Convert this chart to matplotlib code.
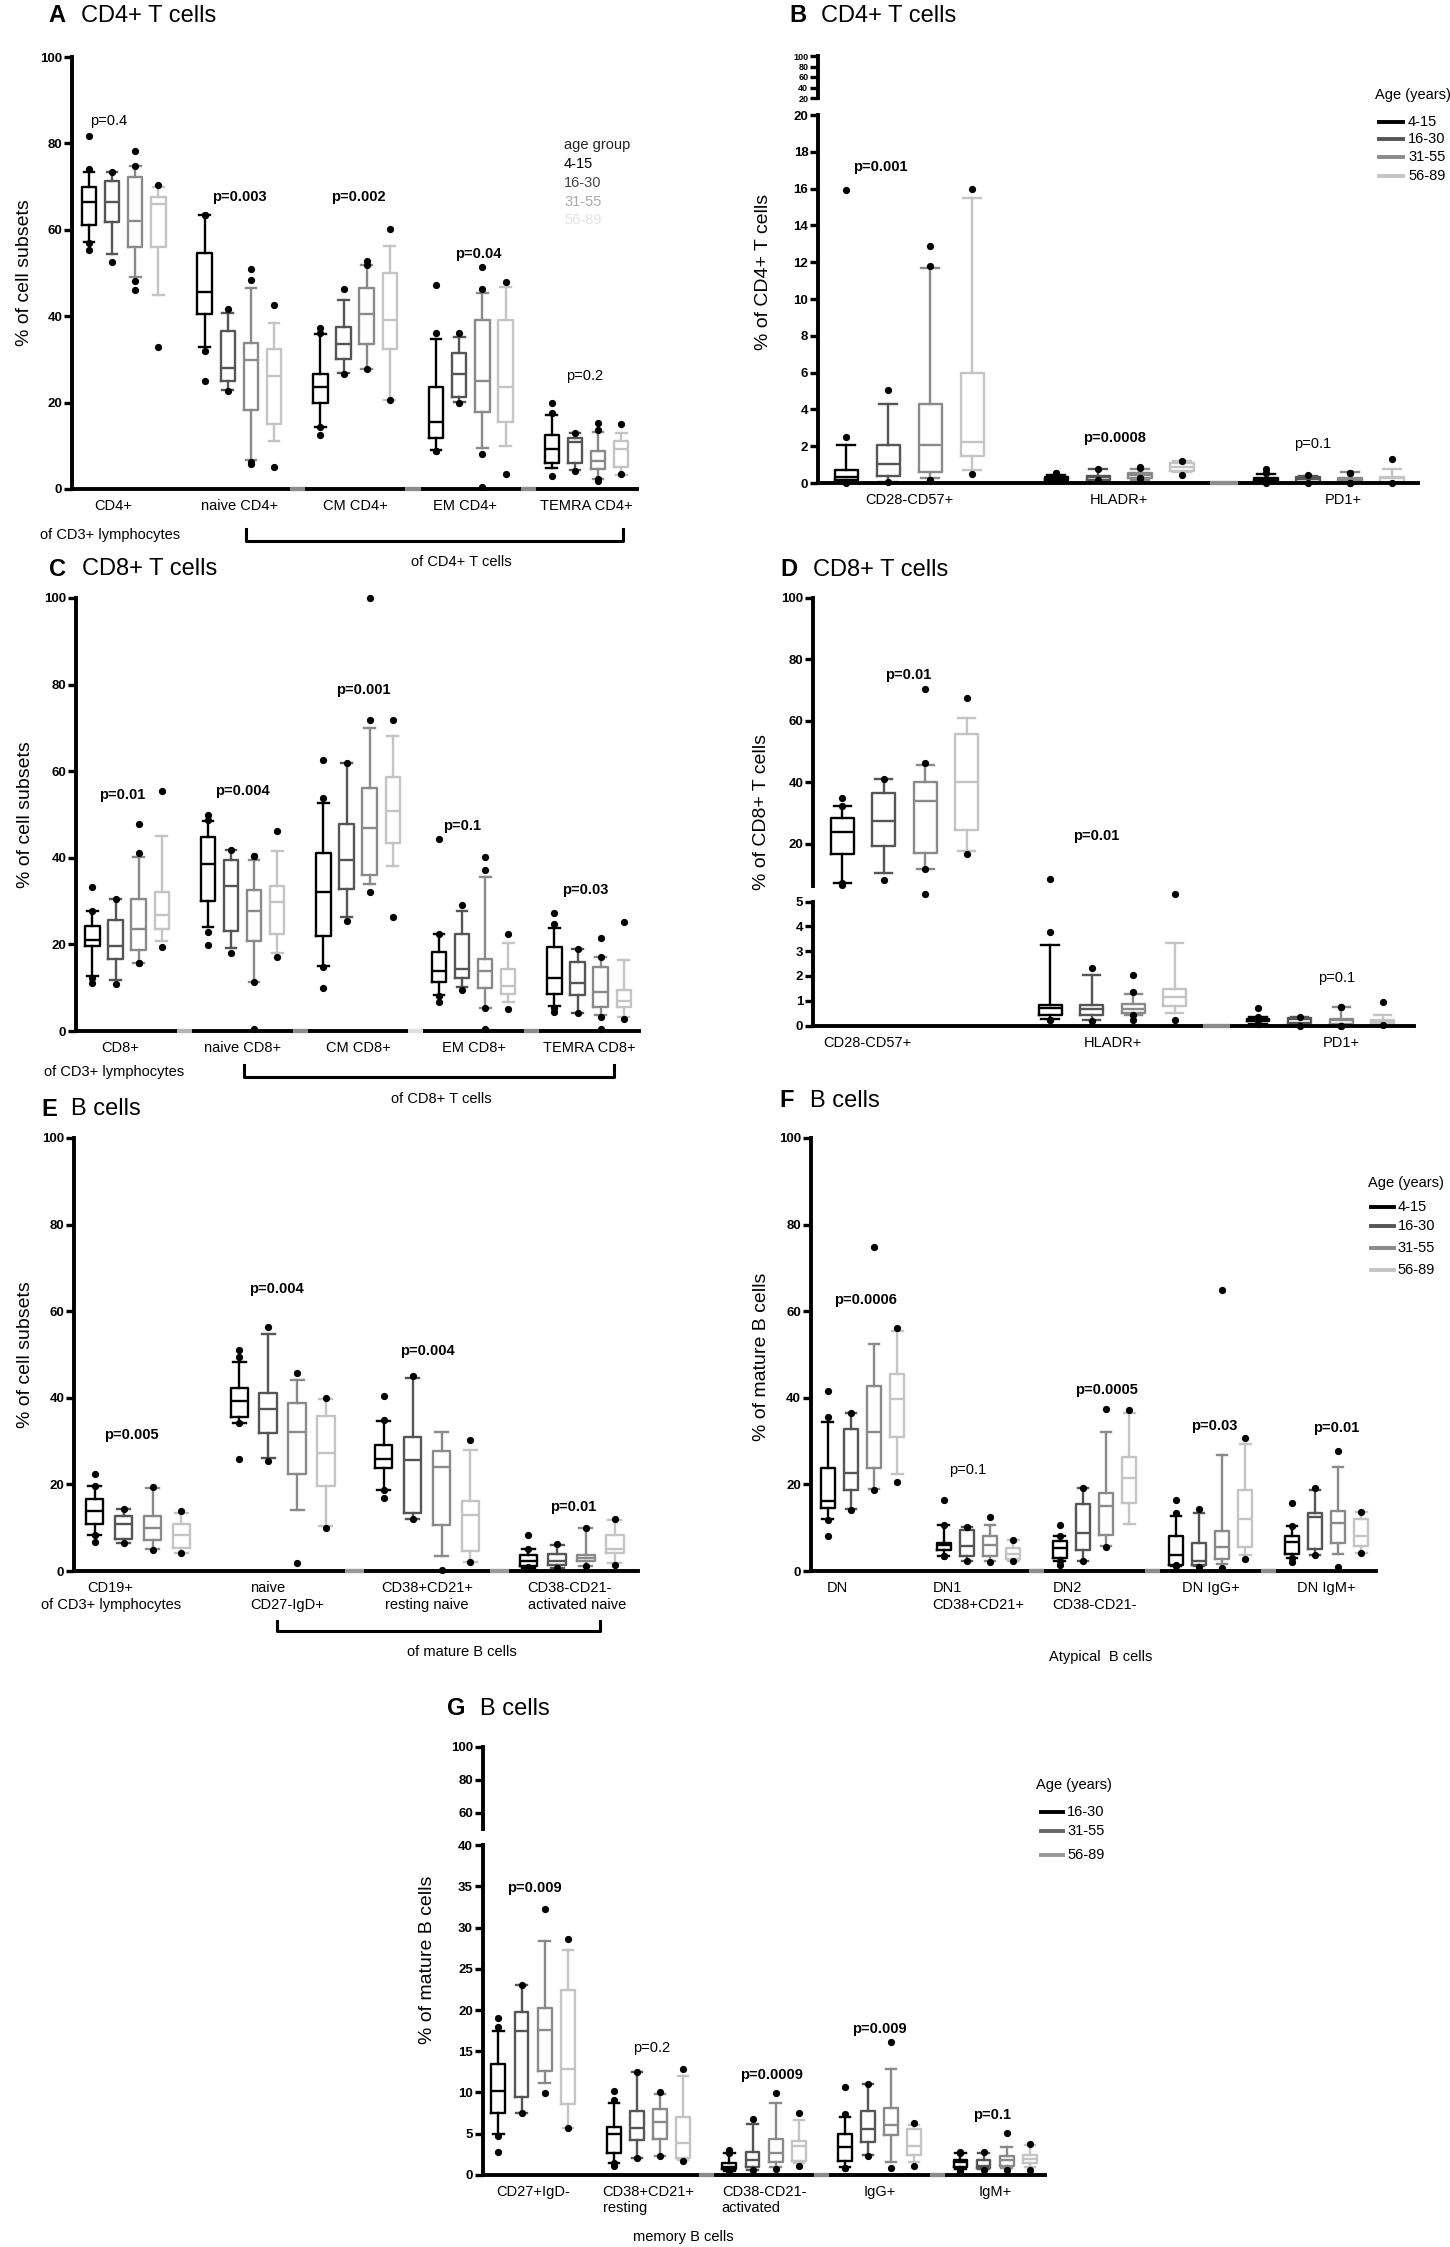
import matplotlib
matplotlib.use("Agg")
import matplotlib.pyplot as plt
from matplotlib.lines import Line2D

plt.rcParams['font.family'] = ['Liberation Sans', 'DejaVu Sans']

# ---------------- data ----------------
GROUPS = ['4-15', '16-30', '31-55', '56-89']
BOX_COLORS = ['#000000', '#555555', '#8a8a8a', '#c4c4c4']

# A  CD4+ T cells
A_cats = ['CD4+', 'naive CD4+', 'CM CD4+', 'EM CD4+', 'TEMRA CD4+']
A_lo = [[57.2, 54.5, 49.0, 45.0], [32.9, 22.9, 6.7, 11.1], [14.4, 26.9, 27.8, 20.6], [9.0, 20.2, 9.5, 10.0], [4.9, 4.3, 2.2, 3.3]]
A_q1 = [[61.0, 61.7, 56.0, 56.0], [40.5, 25.1, 18.3, 15.1], [20.0, 30.0, 33.6, 32.5], [11.9, 21.2, 17.9, 15.5], [6.0, 6.0, 4.7, 5.2]]
A_med = [[66.4, 66.4, 62.1, 66.0], [45.7, 28.1, 29.9, 26.1], [23.6, 33.5, 40.6, 39.1], [15.4, 26.7, 25.1, 23.7], [9.3, 10.9, 6.4, 9.2]]
A_q3 = [[69.8, 71.4, 72.3, 67.6], [54.6, 36.6, 33.7, 32.5], [26.7, 37.4, 46.5, 50.0], [23.7, 31.4, 39.1, 39.1], [12.5, 11.8, 8.8, 11.1]]
A_hi = [[73.4, 73.4, 74.7, 69.8], [63.5, 40.7, 46.5, 38.5], [35.8, 43.8, 51.8, 56.2], [34.8, 35.2, 45.3, 46.7], [17.1, 12.9, 13.3, 13.0]]
A_out = [
    [[81.7, 74.1, 56.9, 55.3], [73.4, 52.5], [78.3, 74.7, 48.1, 46.0], [70.4, 32.9]],
    [[63.5, 63.5, 31.9, 25.1], [41.6, 22.6], [50.9, 48.3, 6.2, 5.8], [42.6, 5.1]],
    [[36.0, 37.3, 14.4, 12.5], [46.3, 26.7], [52.7, 51.9, 27.7], [60.1, 20.6]],
    [[47.2, 36.0, 8.8, 8.8], [36.0, 19.8], [51.3, 46.3, 8.2, 0.4], [48.0, 3.5]],
    [[19.8, 17.7, 3.0], [13.0, 4.1], [15.2, 13.6, 1.8, 2.2], [15.0, 3.5]],
]
A_p = ['p=0.4', 'p=0.003', 'p=0.002', 'p=0.04', 'p=0.2']
A_pbold = [False, True, True, True, False]

# B  CD4+ T cells, activation markers
B_cats = ['CD28-CD57+', 'HLADR+', 'PD1+']
B_lo = [[0.02, 0.06, 0.25, 0.68], [0.10, 0.12, 0.16, 0.60], [0.02, 0.02, 0.02, 0.02]]
B_q1 = [[0.16, 0.39, 0.60, 1.46], [0.16, 0.19, 0.25, 0.64], [0.10, 0.06, 0.06, 0.06]]
B_med = [[0.31, 1.03, 2.04, 2.25], [0.29, 0.31, 0.45, 0.87], [0.21, 0.21, 0.16, 0.25]]
B_q3 = [[0.70, 2.04, 4.27, 5.98], [0.35, 0.39, 0.54, 1.09], [0.29, 0.35, 0.25, 0.31]]
B_hi = [[2.04, 4.29, 11.7, 15.5], [0.45, 0.74, 0.74, 1.22], [0.49, 0.39, 0.60, 0.74]]
B_out = [
    [[2.49, 15.9, 0.0, 0.05], [5.05, 0.06], [12.9, 11.8, 0.19, 0.19], [16.0, 0.49]],
    [[0.54, 0.54, 0.16], [0.74, 0.16], [0.83, 0.89, 0.25, 0.25], [1.22, 0.45]],
    [[0.54, 0.74, 0.02], [0.45, 0.0], [0.54, 0.54, 0.0, 0.0], [1.28, 0.0]],
]
B_p = ['p=0.001', 'p=0.0008', 'p=0.1']
B_pbold = [True, True, False]

# C  CD8+ T cells
C_cats = ['CD8+', 'naive CD8+', 'CM CD8+', 'EM CD8+', 'TEMRA CD8+']
C_lo = [[12.7, 11.8, 15.7, 20.8], [24.0, 19.1, 11.3, 17.9], [15.1, 26.4, 34.0, 38.0], [8.4, 10.2, 5.3, 6.8], [5.7, 4.1, 3.6, 3.3]]
C_q1 = [[19.7, 16.7, 18.7, 23.6], [30.1, 23.2, 20.7, 22.3], [22.0, 32.8, 36.0, 43.4], [11.3, 12.3, 9.9, 8.6], [8.6, 8.4, 5.6, 5.6]]
C_med = [[21.1, 19.7, 23.5, 26.9], [38.6, 33.6, 27.7, 29.8], [32.2, 39.5, 46.9, 50.7], [13.8, 14.3, 13.9, 10.5], [12.3, 11.0, 9.1, 7.0]]
C_q3 = [[24.3, 25.6, 30.6, 32.2], [44.8, 39.4, 32.6, 33.4], [41.1, 47.7, 56.1, 58.7], [18.3, 22.4, 16.7, 14.3], [19.5, 15.9, 14.7, 9.5]]
C_hi = [[27.6, 30.6, 40.2, 45.1], [48.4, 41.9, 39.4, 41.5], [52.7, 61.8, 70.0, 68.2], [22.4, 27.8, 35.6, 20.3], [23.9, 18.9, 17.1, 16.3]]
C_out = [
    [[33.2, 27.8, 12.2, 11.0], [30.6, 10.9], [47.7, 41.0, 15.7, 15.7], [55.4, 19.5]],
    [[48.7, 49.9, 22.9, 19.9], [41.9, 18.1], [40.4, 40.4, 11.3, 0.4], [46.1, 17.1]],
    [[62.7, 53.9, 14.7, 9.9], [61.8, 25.5], [100.0, 71.8, 32.0], [71.8, 26.4]],
    [[44.4, 22.4, 6.6, 8.0], [29.0, 9.5], [40.2, 37.2, 5.3, 0.4], [22.4, 5.0]],
    [[27.3, 24.7, 4.5, 5.4], [18.9, 4.1], [21.5, 17.1, 3.3, 0.4], [25.1, 2.8]],
]
C_p = ['p=0.01', 'p=0.004', 'p=0.001', 'p=0.1', 'p=0.03']
C_pbold = [True, True, True, True, True]

# D  CD8+ T cells, activation markers
D_cats = ['CD28-CD57+', 'HLADR+', 'PD1+']
D_lo = [[7.2, 10.5, 11.9, 17.7], [0.28, 0.21, 0.42, 0.51], [0.07, 0.07, 0.04, 0.04]]
D_q1 = [[16.7, 19.5, 17.1, 24.7], [0.42, 0.42, 0.51, 0.79], [0.17, 0.11, 0.07, 0.07]]
D_med = [[24.0, 27.5, 34.0, 40.1], [0.69, 0.65, 0.67, 1.14], [0.24, 0.28, 0.21, 0.14]]
D_q3 = [[28.6, 36.7, 40.1, 55.8], [0.81, 0.83, 0.88, 1.46], [0.28, 0.31, 0.28, 0.21]]
D_hi = [[32.4, 41.2, 45.7, 61.1], [3.24, 2.04, 1.29, 3.33], [0.35, 0.35, 0.74, 0.44]]
D_out = [
    [[35.0, 32.4, 7.2, 6.8], [41.2, 8.3], [70.3, 46.2, 11.9, 5.3], [67.5, 16.6]],
    [[8.5, 3.79, 0.24, 0.24], [2.32, 0.18], [2.04, 1.36, 0.42, 0.24], [5.3, 0.24]],
    [[0.72, 0.35, 0.07, 0.07], [0.35, 0.0], [0.76, 0.76, 0.0, 0.0], [0.93, 0.03]],
]
D_p = ['p=0.01', 'p=0.01', 'p=0.1']
D_pbold = [True, True, False]

# E  B cells
E_cats = ['CD19+\nof CD3+ lymphocytes', 'naive\nCD27-IgD+', 'CD38+CD21+\nresting naive', 'CD38-CD21-\nactivated naive']
E_lo = [[8.4, 6.4, 5.0, 4.2], [34.2, 26.2, 14.1, 10.3], [18.6, 12.1, 3.4, 2.0], [0.7, 0.7, 1.1, 1.9]]
E_q1 = [[10.8, 7.5, 7.2, 5.3], [35.6, 31.8, 22.5, 19.7], [23.7, 13.5, 10.6, 4.6], [1.1, 1.3, 2.2, 4.2]]
E_med = [[13.9, 10.9, 10.0, 8.4], [39.3, 37.5, 32.1, 27.2], [25.8, 25.6, 24.0, 13.0], [2.4, 2.4, 3.1, 5.1]]
E_q3 = [[16.6, 12.8, 12.6, 10.9], [42.3, 41.0, 38.9, 35.7], [29.2, 30.9, 27.7, 16.1], [3.7, 4.0, 3.7, 8.4]]
E_hi = [[19.7, 14.4, 19.2, 13.3], [48.3, 54.8, 44.0, 39.8], [34.7, 44.6, 32.1, 28.0], [5.1, 6.0, 10.0, 11.7]]
E_out = [
    [[22.5, 19.7, 8.4, 6.8], [14.4, 6.4], [19.4, 4.9], [13.9, 4.2]],
    [[51.1, 49.5, 34.2, 25.8], [56.4, 25.4], [45.7, 1.9], [39.9, 9.9]],
    [[40.4, 34.9, 18.6, 16.8], [45.1, 12.1], [0.2], [30.3, 2.0]],
    [[8.4, 5.1, 0.9, 0.7], [6.2, 0.7], [10.0, 1.1], [11.9, 1.5]],
]
E_p = ['p=0.005', 'p=0.004', 'p=0.004', 'p=0.01']
E_pbold = [True, True, True, True]

# F  atypical B cells
F_cats = ['DN', 'DN1\nCD38+CD21+', 'DN2\nCD38-CD21-', 'DN IgG+', 'DN IgM+']
F_lo = [[11.9, 14.4, 19.0, 22.3], [3.5, 2.2, 2.2, 2.2], [2.4, 2.2, 5.7, 10.8], [1.1, 1.1, 1.6, 3.7], [3.1, 3.7, 4.0, 4.2]]
F_q1 = [[14.6, 18.6, 23.9, 30.9], [4.9, 3.5, 3.5, 2.8], [3.1, 4.9, 8.4, 15.6], [1.5, 1.3, 2.8, 5.6], [4.0, 5.0, 6.4, 5.7]]
F_med = [[16.2, 22.7, 32.2, 39.8], [5.9, 5.7, 6.0, 4.0], [5.3, 8.8, 15.0, 21.4], [3.7, 2.2, 5.5, 11.9], [6.6, 12.4, 11.2, 8.0]]
F_q3 = [[23.7, 32.9, 42.8, 45.5], [6.4, 9.5, 8.1, 5.3], [6.9, 15.5, 17.9, 26.3], [8.1, 6.4, 9.3, 18.6], [8.0, 13.5, 13.9, 12.1]]
F_hi = [[34.3, 36.5, 52.4, 55.4], [10.6, 10.2, 10.6, 7.1], [8.1, 19.2, 32.2, 36.4], [12.8, 13.3, 26.7, 29.4], [10.3, 18.6, 24.0, 13.7]]
F_out = [
    [[41.5, 35.5, 11.7, 8.0], [36.5, 14.0], [74.9, 18.8], [56.1, 20.5]],
    [[16.5, 10.6, 3.5, 3.5], [10.2, 2.2], [12.4, 2.0], [7.2, 2.2]],
    [[10.6, 8.0, 1.3, 2.2], [19.2, 2.2], [37.4, 5.5], [37.1]],
    [[16.5, 13.5, 1.1, 1.3], [14.3, 0.9], [64.9, 0.6], [30.7, 2.8]],
    [[15.7, 10.3, 2.0, 3.1], [19.2, 3.7], [27.8, 0.9], [13.7, 4.2]],
]
F_p = ['p=0.0006', 'p=0.1', 'p=0.0005', 'p=0.03', 'p=0.01']
F_pbold = [True, False, True, True, True]

# G  memory B cells
G_cats = ['CD27+IgD-', 'CD38+CD21+\nresting', 'CD38-CD21-\nactivated', 'IgG+', 'IgM+']
G_lo = [[4.9, 7.5, 11.2, 5.7], [1.4, 2.0, 2.3, 1.8], [0.5, 0.6, 0.9, 1.4], [0.9, 2.4, 1.6, 1.5], [0.7, 0.7, 0.8, 1.0]]
G_q1 = [[7.5, 9.5, 12.6, 8.6], [2.6, 4.2, 4.4, 2.0], [0.7, 0.9, 1.6, 1.7], [1.7, 4.0, 4.8, 2.4], [1.0, 0.8, 1.1, 1.4]]
G_med = [[10.2, 17.5, 17.6, 12.9], [4.9, 5.7, 6.4, 3.9], [1.0, 1.8, 2.7, 3.5], [3.4, 5.5, 6.0, 3.5], [1.5, 1.1, 1.8, 1.9]]
G_q3 = [[13.4, 19.8, 20.2, 22.4], [5.8, 7.8, 8.0, 7.0], [1.4, 2.8, 4.4, 4.1], [4.9, 7.8, 8.1, 5.5], [1.8, 1.8, 2.3, 2.4]]
G_hi = [[17.4, 23.0, 28.4, 27.3], [8.7, 12.5, 9.8, 12.0], [2.6, 6.2, 8.7, 6.6], [7.0, 11.0, 12.8, 6.1], [2.7, 2.7, 3.4, 3.6]]
G_out = [
    [[19.0, 18.0, 4.7, 2.8], [23.0, 7.5], [32.3, 9.9], [28.6, 5.7]],
    [[10.2, 9.1, 1.4, 1.1], [12.5, 2.0], [10.0, 2.3], [12.8, 1.7]],
    [[3.0, 2.6, 0.5, 0.5], [6.8, 0.6], [9.9, 0.7], [7.5, 1.1]],
    [[10.7, 7.4, 0.8, 0.8], [11.0, 2.3], [16.1, 0.8], [6.3, 1.1]],
    [[2.8, 2.7, 0.5, 0.5], [2.8, 0.6], [5.1, 0.6], [3.7, 0.6]],
]
G_p = ['p=0.009', 'p=0.2', 'p=0.0009', 'p=0.009', 'p=0.1']
G_pbold = [True, False, True, True, True]
G_groups = ['16-30', '31-55', '56-89']
G_legend_colors = ['#000000', '#666666', '#999999']

# ---------------- layout helpers (pixel coordinates) ----------------
W, H = 1450, 2247
fig = plt.figure(figsize=(W / 100, H / 100), dpi=100)
SPINE_W = 2.8
BOX_LW = 1.7
FS_TICK = 9.5
FS_CAT = 10.5
FS_P = 10.5


def add_ax(left, right, top, bottom):
    return fig.add_axes([left / W, 1 - bottom / H, (right - left) / W, (bottom - top) / H])


def ftext(x, y, s, **kw):
    kw.setdefault('va', 'center')
    return fig.text(x / W, 1 - y / H, s, **kw)


def fline(xs, ys, **kw):
    fig.add_artist(Line2D([x / W for x in xs], [1 - y / H for y in ys],
                          transform=fig.transFigure, **kw))


def style(ax, ylim, yticks, bottom=True, tick_fs=FS_TICK, bounds=None):
    ax.set_ylim(*ylim)
    ax.set_yticks(yticks)
    ax.set_yticklabels([str(t) for t in yticks], fontsize=tick_fs, fontweight='bold')
    for s in ['top', 'right']:
        ax.spines[s].set_visible(False)
    ax.spines['left'].set_linewidth(SPINE_W)
    if bounds is not None:
        ax.spines['left'].set_bounds(*bounds)
    ax.patch.set_alpha(0)
    ax.tick_params(axis='y', direction='out', length=5.5, width=2.4, pad=1.5)
    if bottom:
        ax.spines['bottom'].set_linewidth(SPINE_W)
        ax.tick_params(axis='x', length=0, pad=7.5, labelsize=FS_CAT)
    else:
        ax.spines['bottom'].set_visible(False)
        ax.set_xticks([])


def boxes(ax, lo, q1, med, q3, hi, out, width, colors=BOX_COLORS):
    y0, y1 = ax.get_ylim()
    for g in range(len(lo)):
        for i in range(4):
            pos = 5 * g + i
            c = colors[i]
            st = dict(whislo=lo[g][i], q1=q1[g][i], med=med[g][i],
                      q3=q3[g][i], whishi=hi[g][i], fliers=[])
            lp = dict(color=c, lw=BOX_LW)
            ax.bxp([st], positions=[pos], widths=width, capwidths=width * 0.75,
                   showfliers=False, boxprops=lp, whiskerprops=lp,
                   capprops=lp, medianprops=lp, manage_ticks=False)
            pts = [v for v in out[g][i] if y0 <= v <= y1]
            ax.plot([pos] * len(pts), pts, 'o', color='black', ms=4.2,
                    clip_on=False, zorder=5)


def cat_labels(ax, cats, offsets=None, aligns=None):
    n = len(cats)
    offsets = offsets or [0] * n
    aligns = aligns or ['center'] * n
    ax.set_xticks([5 * g + 1.5 + offsets[g] for g in range(n)])
    ax.set_xticklabels(cats)
    for lbl, al in zip(ax.get_xticklabels(), aligns):
        lbl.set_multialignment(al)


def gaps(ax, xs, colors):
    for x, c in zip(xs, colors):
        ax.hlines(0, x - 0.33, x + 0.33, color=c, lw=SPINE_W + 0.3, zorder=4, clip_on=False)


def pvals(ax, labels, bold, xy):
    for s, b, (x, y) in zip(labels, bold, xy):
        ax.text(x, y, s, ha='center', va='center', fontsize=FS_P,
                fontweight='bold' if b else 'normal')


def title(xl, xt, y, letter, s):
    ftext(xl, y, letter, fontsize=17, fontweight='bold')
    ftext(xt, y, s, fontsize=17)


def ylab(x, y, s):
    ftext(x, y, s, rotation=90, ha='center', fontsize=14)


def legend_lines(x_title, y_title, xl0, xl1, xt, ys, labels, colors):
    ftext(x_title, y_title, 'Age (years)', fontsize=10.5)
    for y, lab, c in zip(ys, labels, colors):
        fline([xl0, xl1], [y, y], color=c, lw=2.8)
        ftext(xt, y, lab, fontsize=10.5)


def bracket(x0, x1, y, ytop):
    fline([x0, x0, x1, x1], [ytop, y, y, ytop], color='black', lw=2.2)


# ---------------- panel A ----------------
axA = add_ax(72, 637, 57, 489)
axA.set_xlim(-0.73, 23.68)
style(axA, (0, 100), [0, 20, 40, 60, 80, 100])
boxes(axA, A_lo, A_q1, A_med, A_q3, A_hi, A_out, 0.62)
cat_labels(axA, A_cats, offsets=[-0.45, 0, 0, -0.25, 0])
gaps(axA, [9, 14, 19], ['#8c8c8c'] * 3)
pvals(axA, A_p, A_pbold, [(0.86, 85.3), (6.48, 67.5), (11.66, 67.5), (16.84, 54.5), (21.4, 26.2)])
title(48.5, 81, 16, 'A', 'CD4+ T cells')
ylab(25, 273, '% of cell subsets')
ftext(110, 535, 'of CD3+ lymphocytes', ha='center', fontsize=FS_CAT)
bracket(246, 623, 541, 529)
ftext(461, 562, 'of CD4+ T cells', ha='center', fontsize=FS_CAT)
for y, s, c in zip([145.5, 164, 183, 202, 220], ['age group'] + GROUPS,
                   ['#222222', '#000000', '#444444', '#aaaaaa', '#e4e4e4']):
    ftext(564, y, s, fontsize=10.5, color=c)

# ---------------- panel B (broken axis) ----------------
axBu = add_ax(818, 1418, 56, 98)
axBl = add_ax(818, 1418, 115, 483)
for ax in (axBu, axBl):
    ax.set_xlim(-0.67, 13.62)
style(axBu, (20, 100), [20, 40, 60, 80, 100], bottom=False, tick_fs=6.5)
style(axBl, (0, 20), list(range(0, 21, 2)))
boxes(axBl, B_lo, B_q1, B_med, B_q3, B_hi, B_out, 0.55)
cat_labels(axBl, B_cats, offsets=[0, 0, 0.33])
gaps(axBl, [9], ['#8c8c8c'])
pvals(axBl, B_p, B_pbold, [(0.81, 17.2), (6.4, 2.43), (11.1, 2.14)])
title(789.7, 821, 16, 'B', 'CD4+ T cells')
ylab(763, 272, '% of CD4+ T cells')
legend_lines(1375, 95, 1379, 1403, 1408, [122, 139, 157, 176], GROUPS, BOX_COLORS)

# ---------------- panel C ----------------
axC = add_ax(76, 639, 598, 1031)
axC.set_xlim(-0.71, 23.66)
style(axC, (0, 100), [0, 20, 40, 60, 80, 100])
boxes(axC, C_lo, C_q1, C_med, C_q3, C_hi, C_out, 0.62)
cat_labels(axC, C_cats, offsets=[-0.3, 0, 0, 0, 0])
gaps(axC, [4, 9, 14, 19], ['#b4b4b4', '#8c8c8c', '#e0e0e0', '#8c8c8c'])
pvals(axC, C_p, C_pbold, [(1.30, 54.5), (6.51, 55.5), (11.71, 78.8), (16.01, 47.3), (21.32, 32.6)])
title(48.5, 82, 569, 'C', 'CD8+ T cells')
ylab(25.4, 815, '% of cell subsets')
ftext(114, 1072, 'of CD3+ lymphocytes', ha='center', fontsize=FS_CAT)
bracket(244, 614, 1077, 1065)
ftext(441.5, 1099, 'of CD8+ T cells', ha='center', fontsize=FS_CAT)

# ---------------- panel D (broken axis) ----------------
axDu = add_ax(813, 1414, 598, 885.5)
axDl = add_ax(813, 1414, 891.6, 1025.5)
for ax in (axDu, axDl):
    ax.set_xlim(-0.7, 13.75)
style(axDu, (6.5, 100), [20, 40, 60, 80, 100], bottom=False)
style(axDl, (0, 5.4), [0, 1, 2, 3, 4, 5], bounds=(0, 5))
for ax in (axDu, axDl):
    boxes(ax, D_lo, D_q1, D_med, D_q3, D_hi, D_out, 0.55)
cat_labels(axDl, D_cats, offsets=[-0.9, 0, 0.5])
gaps(axDl, [9], ['#8c8c8c'])
pvals(axDu, D_p[:2], D_pbold[:2], [(1.58, 75.1), (6.11, 22.7)])
pvals(axDl, D_p[2:], D_pbold[2:], [(11.9, 1.92)])
title(780.5, 813, 570, 'D', 'CD8+ T cells')
ylab(762, 812, '% of CD8+ T cells')

# ---------------- panel E ----------------
axE = add_ax(74, 638, 1138, 1571)
axE.set_xlim(-0.72, 18.8)
style(axE, (0, 100), [0, 20, 40, 60, 80, 100])
boxes(axE, E_lo, E_q1, E_med, E_q3, E_hi, E_out, 0.6)
cat_labels(axE, E_cats, offsets=[-0.95, 0.15, 0, 0.18],
           aligns=['center', 'left', 'center', 'left'])
gaps(axE, [9, 14], ['#9a9a9a', '#9a9a9a'])
pvals(axE, E_p, E_pbold, [(1.25, 31.4), (6.27, 65.1), (11.52, 50.8), (16.56, 14.8)])
title(41.6, 71, 1109.4, 'E', 'B cells')
ylab(25.4, 1355, '% of cell subsets')
bracket(276.5, 599.6, 1630.6, 1621)
ftext(462, 1651.7, 'of mature B cells', ha='center', fontsize=FS_CAT)

# ---------------- panel F ----------------
axF = add_ax(810.5, 1376, 1138, 1571)
axF.set_xlim(-0.74, 23.63)
style(axF, (0, 100), [0, 20, 40, 60, 80, 100])
boxes(axF, F_lo, F_q1, F_med, F_q3, F_hi, F_out, 0.6)
cat_labels(axF, F_cats, offsets=[-1.1, 0, 0, 0, 0],
           aligns=['center', 'left', 'left', 'center', 'center'])
gaps(axF, [9, 14, 19], ['#8c8c8c'] * 3)
pvals(axF, F_p, F_pbold, [(1.65, 62.5), (6.04, 23.4), (12.0, 41.7), (16.64, 33.4), (21.9, 33.1)])
title(779.5, 809.6, 1100.6, 'F', 'B cells')
ylab(762, 1357, '% of mature B cells')
ftext(1101, 1657.5, 'Atypical  B cells', ha='center', fontsize=FS_CAT)
legend_lines(1367.6, 1183, 1371, 1394, 1397.7, [1206.6, 1226, 1248, 1270], GROUPS, BOX_COLORS)

# ---------------- panel G (broken axis) ----------------
axGu = add_ax(482.7, 1045, 1746.9, 1829.2)
axGl = add_ax(482.7, 1045, 1845.3, 2174.8)
for ax in (axGu, axGl):
    ax.set_xlim(-0.68, 23.66)
style(axGu, (50, 100), [60, 80, 100], bottom=False)
style(axGl, (0, 40), list(range(0, 41, 5)))
boxes(axGl, G_lo, G_q1, G_med, G_q3, G_hi, G_out, 0.6)
cat_labels(axGl, G_cats, aligns=['center', 'left', 'left', 'center', 'center'])
gaps(axGl, [9, 14, 19], ['#8c8c8c'] * 3)
pvals(axGl, G_p, G_pbold, [(1.54, 34.8), (6.61, 15.45), (11.82, 12.1), (16.48, 17.7), (21.35, 7.26)])
title(447, 480.4, 1708.7, 'G', 'B cells')
ylab(427, 1959.5, '% of mature B cells')
ftext(683.6, 2236.6, 'memory B cells', ha='center', fontsize=FS_CAT)
legend_lines(1036, 1785, 1041, 1063, 1067, [1812, 1831, 1855], G_groups, G_legend_colors)

fig.savefig('out.png', dpi=100, facecolor='white')
